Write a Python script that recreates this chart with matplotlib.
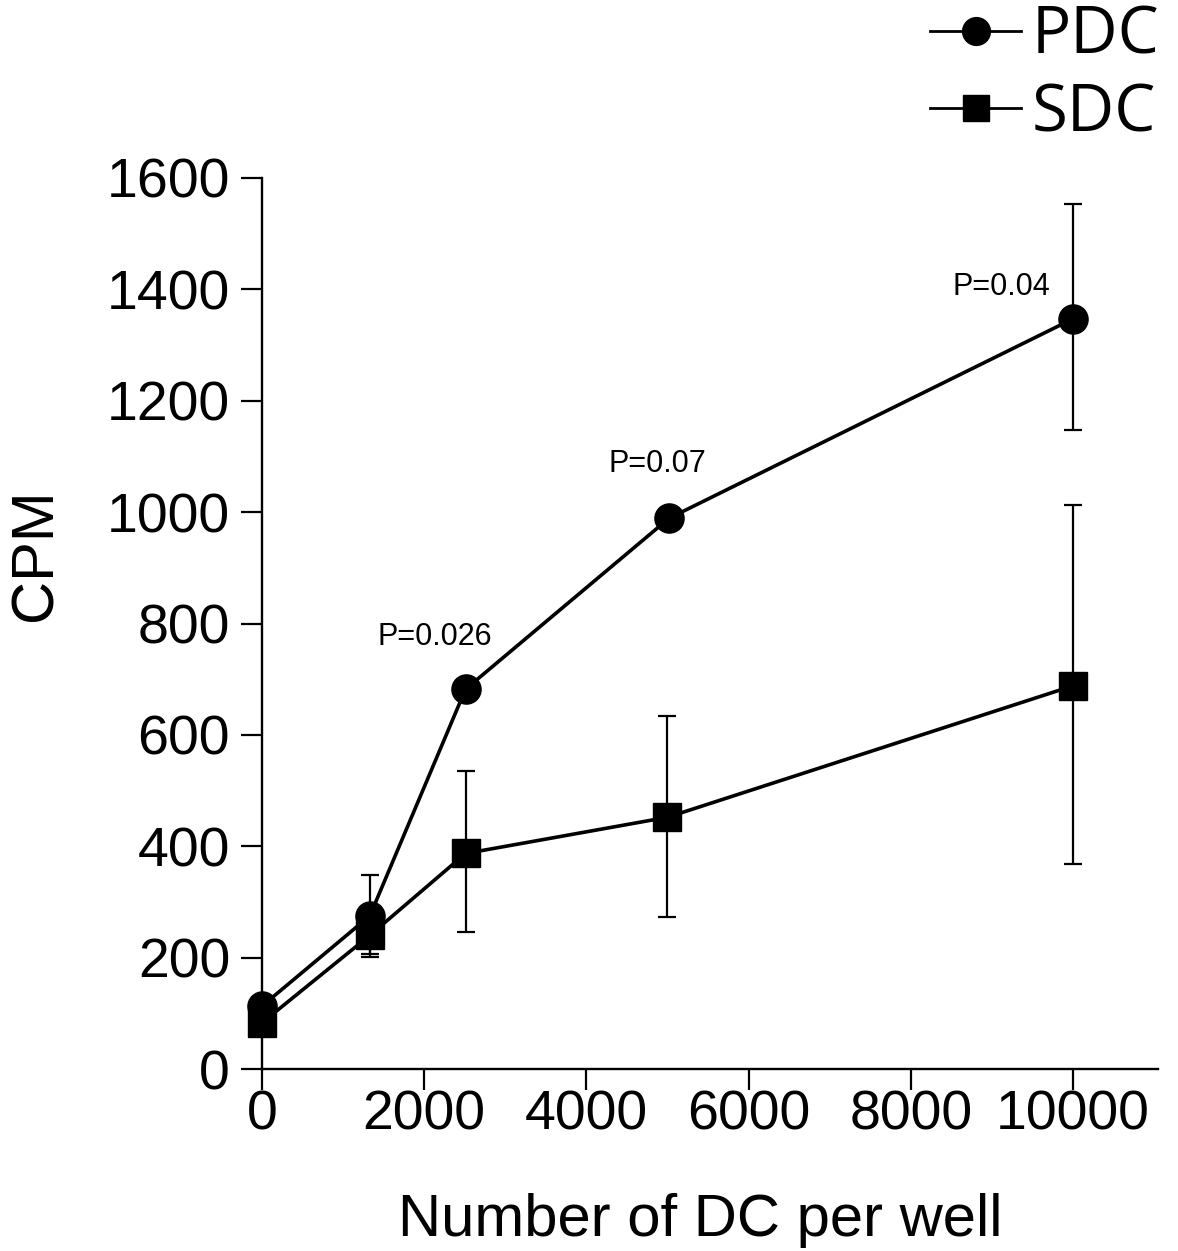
import matplotlib
matplotlib.use("Agg")
import matplotlib.pyplot as plt
from matplotlib.lines import Line2D

# Data
x_pdc = [0, 1330, 2510, 5020, 10000]
y_pdc = [113, 275, 682, 989, 1347]
err_pdc_lo = [0, 73, 0, 0, 200]
err_pdc_hi = [0, 73, 0, 0, 206]

x_sdc = [0, 1330, 2510, 5000, 10000]
y_sdc = [83, 240, 387, 452, 688]
err_sdc_lo = [0, 34, 141, 179, 320]
err_sdc_hi = [0, 34, 148, 182, 324]

x_ticks = [0, 2000, 4000, 6000, 8000, 10000]
y_ticks = [0, 200, 400, 600, 800, 1000, 1200, 1400, 1600]

p_labels = ["P=0.026", "P=0.07", "P=0.04"]
p_x = [2130, 4870, 9120]
p_y = [761, 1072, 1390]

plt.rcParams['font.family'] = ['Liberation Sans', 'DejaVu Sans']

fig = plt.figure(figsize=(11.78, 12.51), dpi=100)
ax = fig.add_axes([262/1178, 1-1069/1251, (1158-262)/1178, (1069-178)/1251])

ax.errorbar(x_pdc, y_pdc, yerr=[err_pdc_lo, err_pdc_hi], fmt='none', ecolor='black',
            elinewidth=1.6, capsize=6.5, capthick=1.6, zorder=2, clip_on=False)
ax.errorbar(x_sdc, y_sdc, yerr=[err_sdc_lo, err_sdc_hi], fmt='none', ecolor='black',
            elinewidth=1.6, capsize=6.5, capthick=1.6, zorder=2, clip_on=False)
ax.plot(x_pdc, y_pdc, color='black', lw=2.6, marker='o', ms=21, zorder=3, clip_on=False)
ax.plot(x_sdc, y_sdc, color='black', lw=2.6, marker='s', ms=20, zorder=3, clip_on=False)

for t, px, py in zip(p_labels, p_x, p_y):
    ax.text(px, py, t, ha='center', va='baseline', fontsize=22, color='black')

ax.set_xlim(0, 11050)
ax.set_ylim(0, 1600)
ax.set_xticks(x_ticks)
ax.set_yticks(y_ticks)
ax.set_xticklabels([str(v) for v in x_ticks])
ax.set_yticklabels([str(v) for v in y_ticks])
ax.tick_params(axis='both', direction='out', length=15, width=1.6, labelsize=40, colors='black')
ax.tick_params(axis='y', pad=8)
ax.tick_params(axis='x', pad=0)
for s in ['top', 'right']:
    ax.spines[s].set_visible(False)
for s in ['left', 'bottom']:
    ax.spines[s].set_linewidth(1.7)

fig.text(700/1178, 1-1236/1251, "Number of DC per well", fontsize=43,
         ha='center', va='baseline')
fig.text(36/1178, 1-555/1251, "CPM", fontsize=43, rotation=90,
         ha='center', va='center')

handles = [Line2D([], [], color='black', lw=2.0, marker='o', ms=20),
           Line2D([], [], color='black', lw=2.0, marker='s', ms=19)]
fig.legend(handles, ["PDC", "SDC"], loc='upper left', bbox_to_anchor=(930/1178, 1-4/1251),
           frameon=False, prop={'family': ['Open Sans', 'DejaVu Sans'], 'size': 47},
           handlelength=1.4, handletextpad=0.15, labelspacing=0.17, borderpad=0.0,
           borderaxespad=0.0)

fig.savefig("out.png", dpi=100)
